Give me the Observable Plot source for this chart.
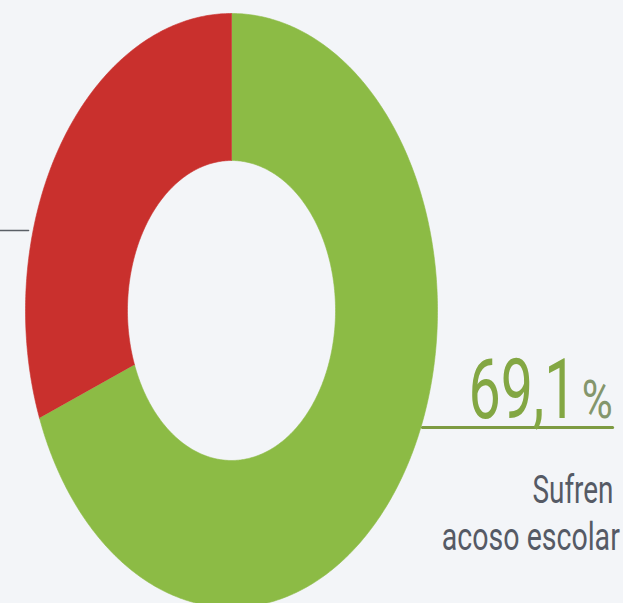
<!DOCTYPE html>
<html><head><meta charset="utf-8">
<script src="https://cdn.jsdelivr.net/npm/d3@7"></script>
<script src="https://cdn.jsdelivr.net/npm/@observablehq/plot@0.6"></script>
<style>
html,body{margin:0;padding:0;background:#f3f5f8;overflow:hidden;}
#chart svg{display:block;}
</style></head><body><div id="chart"></div>
<script>
// Data
const categories = ["Sufren acoso escolar", "No sufren acoso escolar"];
const values = [69.1, 30.9];
const colors = ["#8cbb45", "#c9302d"];
const valueLabel = "69,1";
const percentSign = "%";
const labelLines = ["Sufren", "acoso escolar"];

// Build ring slices (angles clockwise from top) from the values
const innerRatio = 0.505;
const total = d3.sum(values);
const pts = [];
let acc = 0;
categories.forEach((c, i) => {
  const a0 = acc / total * 2 * Math.PI;
  acc += values[i];
  const a1 = acc / total * 2 * Math.PI;
  const n = Math.max(8, Math.ceil((a1 - a0) / 0.01));
  for (let k = 0; k <= n; k++) {
    const a = a0 + (a1 - a0) * k / n;
    pts.push({cat: c, x: Math.sin(a), y: Math.cos(a)});
  }
  for (let k = n; k >= 0; k--) {
    const a = a0 + (a1 - a0) * k / n;
    pts.push({cat: c, x: innerRatio * Math.sin(a), y: innerRatio * Math.cos(a)});
  }
});

// annotation anchors (data units of the ring)
const greenLeader = [{x: 0.927, y: -0.394}, {x: 1.85, y: -0.394}];
const redLeader = [{x: -1.13, y: 0.269}, {x: -0.985, y: 0.269}];

const font = "Roboto, 'Liberation Sans', sans-serif";
const chart = Plot.plot({
  width: 623,
  height: 603,
  margin: 0,
  style: {background: "transparent"},
  x: {domain: [-1, 1], range: [25, 437], axis: null},
  y: {domain: [-1, 1], range: [607, 13], axis: null},
  color: {domain: categories, range: colors},
  marks: [
    Plot.line(pts, {x: "x", y: "y", z: "cat", fill: "cat", stroke: "cat", strokeWidth: 0.6}),
    Plot.line(greenLeader, {x: "x", y: "y", stroke: "#7d9b42", strokeWidth: 3}),
    Plot.line(redLeader, {x: "x", y: "y", stroke: "#5a5f66", strokeWidth: 1.5}),
    Plot.text([valueLabel], {x: 1.675, y: -0.3636, text: d => d, textAnchor: "end", lineAnchor: "bottom",
      fontSize: 84, fill: "#83a743", fontFamily: font, fontWeight: 400}),
    Plot.text([percentSign], {x: 1.70, y: -0.3636, text: d => d, textAnchor: "start", lineAnchor: "bottom",
      fontSize: 54, fill: "#84966c", fontFamily: font, fontWeight: 400}),
    Plot.text([labelLines[0]], {x: 1.854, y: -0.6465, text: d => d, textAnchor: "end", lineAnchor: "bottom",
      fontSize: 38, fill: "#555a65", fontFamily: font}),
    Plot.text([labelLines[1]], {x: 1.885, y: -0.808, text: d => d, textAnchor: "end", lineAnchor: "bottom",
      fontSize: 38, fill: "#555a65", fontFamily: font})
  ]
});
document.getElementById("chart").append(chart);

// condensed look: horizontally scale each label about its anchor to the reference width
const widths = {"69,1": 108, "%": 31, "Sufren": 81, "acoso escolar": 178};
chart.querySelectorAll("text").forEach(t => {
  const w = widths[t.textContent];
  if (!w) return;
  const natural = t.getComputedTextLength();
  if (!natural) return;
  const sx = w / natural;
  const tr = t.getAttribute("transform") || "";
  t.setAttribute("transform", (tr + ` scale(${sx.toFixed(4)},1)`).trim());
});
</script></body></html>
